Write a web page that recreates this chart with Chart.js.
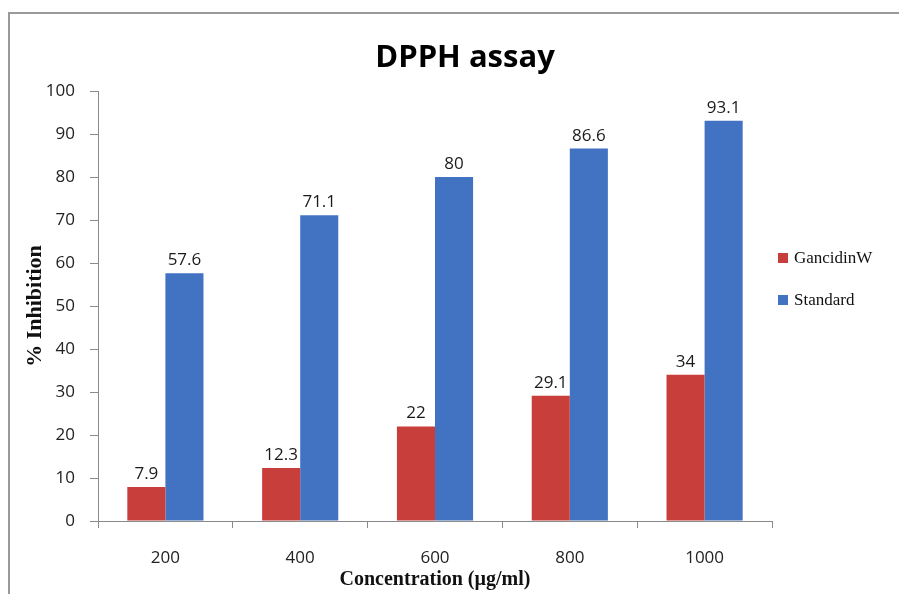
<!DOCTYPE html>
<html>
<head>
<meta charset="utf-8">
<script src="https://cdn.jsdelivr.net/npm/chart.js@4/dist/chart.umd.min.js"></script>
<style>
  html, body { margin: 0; padding: 0; background: #ffffff; }
  #wrap { width: 899px; height: 594px; }
</style>
</head>
<body>
<div id="wrap"><canvas id="c" width="899" height="594"></canvas></div>
<script>
const chartTitle = 'DPPH assay';
const categories = ['200', '400', '600', '800', '1000'];
const seriesNames = ['GancidinW', 'Standard'];
const gancidinW = [7.9, 12.3, 22, 29.1, 34];
const standard = [57.6, 71.1, 80, 86.6, 93.1];
const yTicks = [0, 10, 20, 30, 40, 50, 60, 70, 80, 90, 100];
const xTitle = 'Concentration (µg/ml)';
const yTitle = '% Inhibition';
const colors = ['#C73E3B', '#4273C2'];

const sansFont = "'Open Sans', 'Noto Sans', sans-serif";
const serifFont = "'Liberation Serif', 'DejaVu Serif', serif";

const decorPlugin = {
  id: 'decor',
  beforeDraw(chart) {
    const ctx = chart.ctx;
    ctx.save();
    ctx.fillStyle = '#ffffff';
    ctx.fillRect(0, 0, chart.width, chart.height);
    ctx.strokeStyle = '#9a9a9a';
    ctx.lineWidth = 2;
    ctx.beginPath();
    ctx.moveTo(9, chart.height);
    ctx.lineTo(9, 13);
    ctx.lineTo(chart.width, 13);
    ctx.stroke();
    ctx.restore();
  },
  afterDraw(chart) {
    const ctx = chart.ctx;
    ctx.save();
    // Title
    ctx.fillStyle = '#000000';
    ctx.font = "bold 31px " + sansFont;
    ctx.textAlign = 'center';
    ctx.textBaseline = 'alphabetic';
    ctx.fillText(chartTitle, 465, 67);

    // Data labels
    ctx.font = "17px " + sansFont;
    ctx.fillStyle = '#1a1a1a';
    ctx.textAlign = 'center';
    ctx.textBaseline = 'alphabetic';
    chart.data.datasets.forEach((ds, di) => {
      const meta = chart.getDatasetMeta(di);
      meta.data.forEach((bar, i) => {
        ctx.fillText(String(ds.data[i]), bar.x, bar.y - 8);
      });
    });

    // Legend
    const lx = 778, ly0 = 253, gap = 42;
    ctx.font = "17px " + serifFont;
    ctx.textAlign = 'left';
    ctx.textBaseline = 'middle';
    chart.data.datasets.forEach((ds, di) => {
      const y = ly0 + di * gap;
      ctx.fillStyle = ds.backgroundColor;
      ctx.fillRect(lx, y, 10, 10);
      ctx.fillStyle = '#111111';
      ctx.fillText(ds.label, lx + 16, y + 6);
    });
    ctx.restore();
  }
};

new Chart(document.getElementById('c'), {
  type: 'bar',
  data: {
    labels: categories,
    datasets: [
      { label: seriesNames[0], data: gancidinW, backgroundColor: colors[0], borderWidth: 0 },
      { label: seriesNames[1], data: standard, backgroundColor: colors[1], borderWidth: 0 }
    ]
  },
  options: {
    responsive: false,
    animation: false,
    devicePixelRatio: 1,
    layout: { padding: { left: 0, right: 127, top: 91, bottom: 0 } },
    datasets: { bar: { categoryPercentage: 0.565, barPercentage: 1.0 } },
    plugins: {
      legend: { display: false },
      title: { display: false },
      tooltip: { enabled: false }
    },
    scales: {
      x: {
        grid: { offset: true, drawOnChartArea: false, drawTicks: true, tickLength: 7, color: '#8a8a8a' },
        border: { color: '#8a8a8a', width: 1 },
        ticks: { color: '#222222', font: { family: sansFont, size: 17 }, padding: 20, maxRotation: 0 },
        title: { display: true, text: xTitle, color: '#111111', font: { family: serifFont, size: 20, weight: 'bold' }, padding: { top: 2, bottom: 2 } },
        afterFit(scale) { scale.height = 73; }
      },
      y: {
        min: 0,
        max: 100,
        afterBuildTicks(scale) { scale.ticks = yTicks.map(v => ({ value: v })); },
        grid: { drawOnChartArea: false, drawTicks: true, tickLength: 8, color: '#8a8a8a' },
        border: { color: '#8a8a8a', width: 1 },
        ticks: { color: '#222222', font: { family: sansFont, size: 17 }, padding: 15 },
        title: { display: true, text: yTitle, color: '#111111', font: { family: serifFont, size: 22, weight: 'bold' }, padding: { top: 22, bottom: 4 } },
        afterFit(scale) { scale.width = 98; }
      }
    }
  },
  plugins: [decorPlugin]
});
</script>
</body>
</html>
